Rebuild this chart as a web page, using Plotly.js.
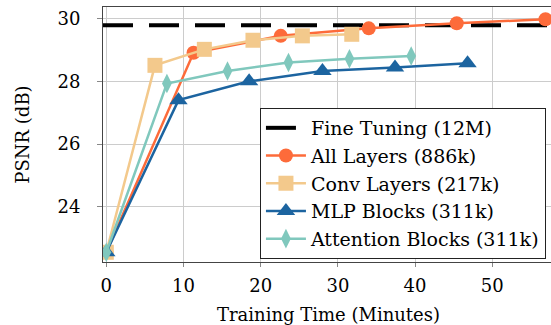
<!DOCTYPE html>
<html>
<head>
<meta charset="utf-8">
<script src="https://cdn.plot.ly/plotly-3.0.1.min.js"></script>
<style>
  html, body { margin: 0; padding: 0; overflow: hidden; background: #fff; }
  #chart { width: 554px; height: 325px; }
</style>
</head>
<body>
<div id="chart"></div>
<script>
// ---- data ----
const fineTuningPSNR = 29.79;
const xRange = [-0.43, 58];
const yRange = [22.24, 30.37];

const timeAll  = [0, 11.3, 22.6, 34.0, 45.4, 56.9];
const psnrAll  = [22.55, 28.91, 29.45, 29.69, 29.85, 29.98];

const timeConv = [0, 6.3, 12.7, 19.0, 25.4, 31.8];
const psnrConv = [22.55, 28.51, 29.02, 29.31, 29.45, 29.5];

const timeMLP  = [0, 9.35, 18.5, 28.0, 37.4, 46.8];
const psnrMLP  = [22.55, 27.4, 28.0, 28.33, 28.44, 28.58];

const timeAtt  = [0, 7.85, 15.7, 23.6, 31.5, 39.5];
const psnrAtt  = [22.55, 27.93, 28.33, 28.6, 28.72, 28.81];

const names = ['Fine Tuning (12M)', 'All Layers (886k)', 'Conv Layers (217k)', 'MLP Blocks (311k)', 'Attention Blocks (311k)'];
const xTicks = [0, 10, 20, 30, 40, 50];
const yTicks = [24, 26, 28, 30];

const FONT = 'DejaVu Serif, serif';

const traces = [
  { x: xRange, y: [fineTuningPSNR, fineTuningPSNR], name: names[0], mode: 'lines',
    line: { color: '#000000', width: 4, dash: '30px,16px' } },
  { x: timeAll, y: psnrAll, name: names[1], mode: 'lines+markers',
    line: { color: '#fd6b3a', width: 2.5 }, marker: { symbol: 'circle', size: 14, color: '#fd6b3a' } },
  { x: timeConv, y: psnrConv, name: names[2], mode: 'lines+markers',
    line: { color: '#f3c98c', width: 2.5 }, marker: { symbol: 'square', size: 15, color: '#f3c98c' } },
  { x: timeMLP, y: psnrMLP, name: names[3], mode: 'lines+markers',
    line: { color: '#1c64a0', width: 2.5 }, marker: { symbol: 'triangle-up', size: 16, color: '#1c64a0' } },
  { x: timeAtt, y: psnrAtt, name: names[4], mode: 'lines+markers',
    line: { color: '#80c8bd', width: 2.5 }, marker: { symbol: 'diamond-tall', size: 14, color: '#80c8bd' } }
];

const layout = {
  width: 554, height: 325,
  margin: { l: 103, r: 0, t: 7, b: 63 },
  paper_bgcolor: '#ffffff', plot_bgcolor: '#ffffff',
  font: { family: FONT, size: 18, color: '#000000' },
  showlegend: true,
  legend: {
    x: 0.348, y: 0.604, xanchor: 'left', yanchor: 'top',
    bgcolor: '#ffffff', bordercolor: '#222222', borderwidth: 1,
    font: { family: FONT, size: 19, color: '#000000' },
    itemwidth: 40
  },
  xaxis: {
    range: xRange, tickvals: xTicks, ticktext: xTicks.map(String),
    showgrid: true, gridcolor: '#cccccc', gridwidth: 1, zeroline: false,
    showline: true, linecolor: '#444444', linewidth: 1, mirror: true,
    ticks: 'outside', ticklen: 4, tickcolor: '#888888', ticklabelstandoff: 3,
    tickfont: { family: FONT, size: 18, color: '#000' },
    title: { text: 'Training Time (Minutes)', font: { family: FONT, size: 18, color: '#000' }, standoff: 17 }
  },
  yaxis: {
    range: yRange, tickvals: yTicks, ticktext: yTicks.map(String),
    showgrid: true, gridcolor: '#cccccc', gridwidth: 1, zeroline: false,
    showline: true, linecolor: '#444444', linewidth: 1, mirror: true,
    ticks: 'outside', ticklen: 5, tickcolor: '#888888', ticklabelstandoff: 13,
    tickfont: { family: FONT, size: 18, color: '#000' },
    title: { text: 'PSNR (dB)', font: { family: FONT, size: 18, color: '#000' }, standoff: 23 }
  }
};

Plotly.newPlot('chart', traces, layout, { staticPlot: true, displayModeBar: false });
</script>
</body>
</html>
